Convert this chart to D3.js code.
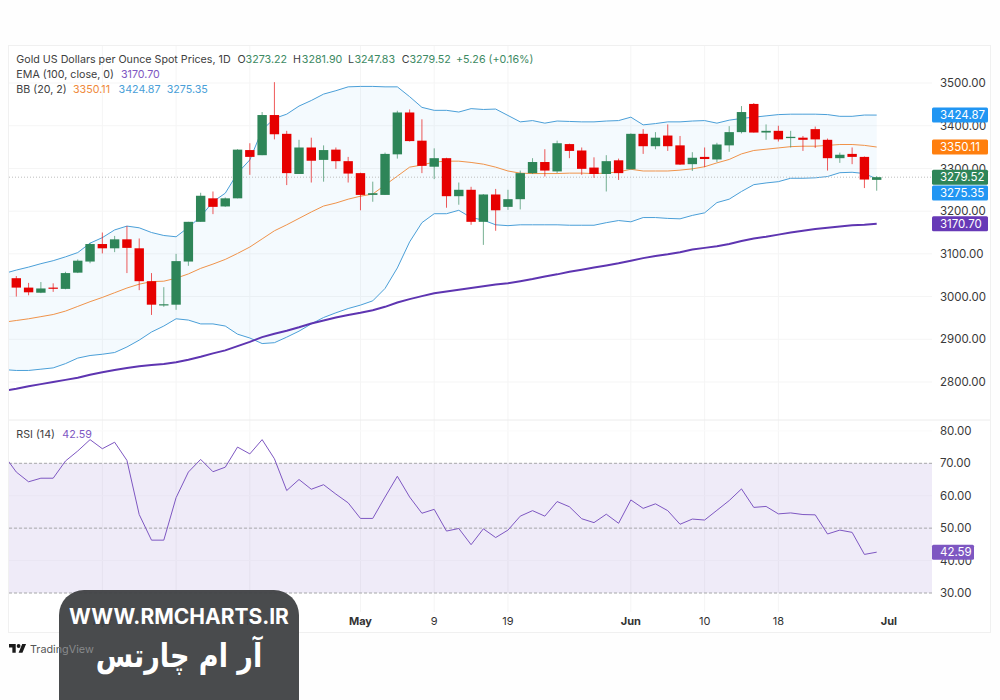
<!DOCTYPE html>
<html><head><meta charset="utf-8">
<script src="https://cdn.jsdelivr.net/npm/d3@7"></script>
<style>html,body{margin:0;background:#fefefe}svg{display:block}text{font-family:Inter,"Noto Sans",sans-serif}</style>
</head><body><div id="chart"></div>
<script>
const open=[3043,3021,3009,3021,3018,3056,3082,3123,3113,3134,3113,3036,2980,2981,3082,3175,3230,3211,3230,3343,3331,3425,3381,3287,3349,3320,3344,3317,3289,3238,3238,3333,3431,3365,3304,3324,3235,3250,3175,3239,3210,3228,3289,3315,3293,3357,3342,3302,3287,3319,3298,3381,3352,3377,3354,3310,3327,3321,3354,3385,3451,3384,3388,3371,3372,3392,3367,3324,3334,3327,3273.22];
const high=[3048,3032,3034,3031,3058,3087,3126,3150,3142,3165,3136,3055,3022,3100,3175,3243,3246,3232,3345,3359,3432,3502,3388,3367,3372,3354,3349,3327,3290,3269,3337,3435,3438,3415,3347,3325,3267,3257,3240,3252,3250,3295,3324,3345,3365,3358,3349,3326,3331,3323,3382,3392,3385,3403,3376,3338,3349,3360,3399,3446,3453,3403,3400,3388,3376,3398,3370,3337,3349,3328,3281.90];
const low=[3000,3003,3008,3011,3017,3055,3078,3101,3104,3055,3015,2957,2976,2969,3072,3175,3193,3210,3230,3285,3331,3368,3261,3287,3267,3269,3299,3267,3202,3222,3238,3323,3363,3289,3275,3208,3215,3168,3121,3154,3203,3204,3287,3281,3289,3324,3285,3278,3246,3273,3298,3334,3345,3341,3308,3294,3303,3315,3339,3382,3384,3367,3363,3349,3341,3348,3295,3313,3310,3254,3247.83];
const close=[3021,3010,3019,3019,3055,3084,3123,3113,3134,3114,3036,2981,2982,3083,3175,3236,3210,3230,3344,3327,3425,3380,3289,3349,3318,3343,3317,3288,3238,3242,3334,3431,3364,3306,3324,3235,3250,3175,3239,3202,3228,3289,3315,3295,3359,3341,3299,3287,3317,3289,3381,3352,3372,3352,3309,3325,3322,3356,3385,3432,3384,3388,3368,3374,3367,3368,3324,3332,3327,3274,3279.52];
// Overlay series start one session before the first visible candle.
const bbUpper=[3054,3062,3069,3077,3084,3093,3103,3125,3138,3156,3165,3161,3150,3143,3140,3162,3187,3222,3242,3289,3320,3390,3417,3427,3446,3459,3474,3482,3491,3492,3492,3491,3491,3468,3443,3436,3436,3432,3440,3438,3439,3424,3409,3412,3406,3411,3410,3409,3409,3411,3412,3420,3402,3405,3409,3409,3411,3412,3406,3413,3417,3420,3423,3426,3427,3427,3427,3426,3422,3422,3425,3424.87];
const bbMiddle=[2940,2944,2948,2953,2958,2966,2977,2988,2998,3009,3020,3029,3035,3036,3043,3053,3066,3076,3087,3101,3116,3135,3154,3168,3183,3198,3212,3219,3228,3235,3240,3261,3282,3303,3308,3315,3317,3317,3314,3310,3303,3294,3289,3288,3288,3288,3289,3289,3288,3289,3292,3298,3294,3294,3294,3296,3299,3304,3313,3321,3334,3342,3345,3348,3351,3352,3352,3354,3356,3356,3354,3350.11];
const bbLower=[2829,2827,2827,2830,2833,2843,2856,2862,2865,2869,2882,2898,2917,2931,2948,2945,2936,2936,2931,2912,2903,2890,2892,2905,2919,2936,2951,2962,2972,2980,2990,3019,3067,3128,3173,3194,3194,3202,3185,3179,3168,3166,3168,3168,3168,3168,3167,3167,3167,3173,3178,3175,3185,3185,3183,3182,3190,3196,3220,3228,3246,3262,3266,3269,3277,3277,3278,3281,3290,3291,3288,3275.35];
const ema=[2779,2784,2790,2795,2800,2805,2810,2817,2823,2828,2833,2837,2840,2842,2846,2852,2859,2867,2874,2884,2894,2905,2913,2920,2928,2937,2944,2951,2957,2962,2968,2976,2986,2994,3001,3008,3012,3016,3020,3024,3028,3031,3036,3041,3047,3052,3058,3063,3068,3073,3078,3084,3090,3095,3099,3104,3110,3114,3118,3123,3130,3136,3140,3145,3150,3154,3158,3161,3164,3167,3168,3170.70];
const rsi=[72.5,67.3,64.3,65.4,65.4,70.7,73.8,77.3,74.5,76.5,70.9,54.2,46.3,46.3,59.4,67.3,71.2,67.4,68.8,75,72.9,77.3,71.4,61.6,65,62,63.4,60.5,57.8,53,53,59.6,66,59.6,54.6,55.8,49.1,49.9,44.9,49.8,47.1,49.4,53.7,55.4,53.7,58.2,56.6,52.9,51.7,54.3,51.5,58.7,56.1,57.5,55.4,51.2,52.8,52.5,55.5,58.5,62.1,56.4,56.7,54.4,54.7,54.2,54.1,48.2,49.4,48.7,41.9,42.59];
const priceTicks=[2800,2900,3000,3100,3200,3300,3400,3500];
const rsiTicks=[30,40,50,60,70,80];
const rsiLevels=[30,50,70];
const timeIdx=[7,13,19,28,34,40,50,56,62,71];
const timeLabels=["Apr","9","17","May","9","19","Jun","10","18","Jul"];
const timeBold=["Apr","May","Jun","Jul"];

const UP="#2e8558",DOWN="#e60000",BLUE="#2196f3",ORANGE="#ff7f0e",EMA_C="#5e35b1",RSI_C="#7e57c2",TXT="#3a3a3a";
const L=9,R=932,RR=990,T=46,B=632;
const svg=d3.select("#chart").append("svg").attr("width",1000).attr("height",700);
const x=d3.scaleLinear().domain([0,70]).range([16.3,876.7]);
const y=d3.scaleLinear().domain([2800,3500]).range([382,83]);
const yr=d3.scaleLinear().domain([30,70]).range([593,463.3]);

const defs=svg.append("defs");
defs.append("clipPath").attr("id","plot").append("rect").attr("x",L).attr("y",T).attr("width",R-L).attr("height",B-T);
const WM_PATH="M59 700V615a25 25 0 0 1 25-25H274a25 25 0 0 1 25 25V700Z";
defs.append("clipPath").attr("id","wm").append("path").attr("d",WM_PATH);
svg.append("rect").attr("x",L-.5).attr("y",T-.5).attr("width",RR-L+1).attr("height",B-T+1).attr("fill","#fff").attr("stroke","#f0f0f0");

// grid
const grid=svg.append("g").attr("stroke","#f5f5f5");
grid.selectAll("line.v").data(timeIdx.slice(0,-1)).join("line").attr("x1",d=>x(d)).attr("x2",d=>x(d)).attr("y1",T).attr("y2",612);
grid.selectAll("line.h").data(priceTicks).join("line").attr("x1",L).attr("x2",R).attr("y1",d=>y(d)).attr("y2",d=>y(d));
grid.selectAll("line.r").data(rsiTicks).join("line").attr("x1",L).attr("x2",R).attr("y1",d=>yr(d)).attr("y2",d=>yr(d)).attr("stroke","#fafafa");
svg.append("line").attr("x1",L).attr("x2",RR).attr("y1",420).attr("y2",420).attr("stroke","#ececec");

const plot=svg.append("g").attr("clip-path","url(#plot)");
const idx=d3.range(-1,71);
const lineOf=(arr,sc)=>d3.line().x((d,i)=>x(idx[i])).y(d=>sc(d))(arr);
plot.append("path").attr("fill",BLUE).attr("fill-opacity",.05)
  .attr("d",d3.area().x((d,i)=>x(idx[i])).y0((d,i)=>y(bbLower[i])).y1(d=>y(d))(bbUpper));
plot.append("path").attr("d",lineOf(bbUpper,y)).attr("fill","none").attr("stroke","#4a9fd8").attr("stroke-width",1);
plot.append("path").attr("d",lineOf(bbLower,y)).attr("fill","none").attr("stroke","#4a9fd8").attr("stroke-width",1);
plot.append("path").attr("d",lineOf(bbMiddle,y)).attr("fill","none").attr("stroke","#f0934a").attr("stroke-width",1);
plot.append("path").attr("d",lineOf(ema,y)).attr("fill","none").attr("stroke",EMA_C).attr("stroke-width",2);
plot.append("line").attr("x1",L).attr("x2",R).attr("y1",y(3279.52)).attr("y2",y(3279.52)).attr("stroke","#bdbdbd").attr("stroke-dasharray","1 2");

// candles
const cData=open.map((o,i)=>({i,o,h:high[i],l:low[i],c:close[i]}));
const cw=9.4;
const cg=plot.selectAll("g.c").data(cData).join("g");
cg.append("line").attr("x1",d=>x(d.i)).attr("x2",d=>x(d.i)).attr("y1",d=>y(d.h)).attr("y2",d=>y(d.l))
  .attr("stroke",d=>d.c>=d.o?UP:DOWN).attr("stroke-opacity",.65);
cg.append("rect").attr("x",d=>x(d.i)-cw/2).attr("width",cw)
  .attr("y",d=>y(Math.max(d.o,d.c))).attr("height",d=>Math.max(1.2,Math.abs(y(d.o)-y(d.c))))
  .attr("fill",d=>d.c>=d.o?UP:DOWN);

// RSI pane
plot.append("rect").attr("x",L).attr("width",R-L).attr("y",yr(70)).attr("height",yr(30)-yr(70)).attr("fill",RSI_C).attr("fill-opacity",.12);
plot.selectAll("line.lv").data(rsiLevels).join("line").attr("x1",L).attr("x2",R).attr("y1",d=>yr(d)).attr("y2",d=>yr(d))
  .attr("stroke","#a8a8ac").attr("stroke-dasharray","3 2");
plot.append("path").attr("d",lineOf(rsi,yr)).attr("fill","none").attr("stroke",RSI_C).attr("stroke-width",1);

// axes
function axisStyle(g){g.select(".domain").remove();g.selectAll("text").attr("font-size",11.5).attr("fill",TXT).attr("font-family","Inter");}
svg.append("g").attr("transform",`translate(${R},0)`).call(d3.axisRight(y).tickValues(priceTicks).tickFormat(d3.format(".2f")).tickSize(0).tickPadding(8)).call(axisStyle);
svg.append("g").attr("transform",`translate(${R},0)`).call(d3.axisRight(yr).tickValues(rsiTicks).tickFormat(d3.format(".2f")).tickSize(0).tickPadding(8)).call(axisStyle);
svg.append("g").selectAll("text").data(timeIdx).join("text").attr("x",d=>x(d)).attr("y",625).attr("text-anchor","middle")
  .attr("font-size",11).attr("fill","#333").attr("font-weight",(d,i)=>timeBold.includes(timeLabels[i])?700:400).text((d,i)=>timeLabels[i]);

// last-value tags: the 3275.35 tag sits displaced below the close tag, as in the terminal
const tags=[[bbUpper[71],y(bbUpper[71]),BLUE],[bbMiddle[71],y(bbMiddle[71]),"#ff7f0e"],[bbLower[71],193,BLUE],[close[70],y(close[70]),UP],[ema[71],y(ema[71]),"#673ab7"]];
const tg=svg.selectAll("g.t").data(tags).join("g").attr("transform",d=>`translate(${R},${d[1]})`);
tg.append("rect").attr("y",-7.5).attr("width",56).attr("height",15).attr("rx",1.5).attr("fill",d=>d[2]);
tg.append("text").attr("x",8).attr("dy","0.36em").attr("font-size",11.5).attr("fill","#fff").text(d=>d3.format(".2f")(d[0]));
const rt=svg.append("g").attr("transform",`translate(${R},${yr(rsi[71])})`);
rt.append("rect").attr("y",-7.5).attr("width",42).attr("height",15).attr("rx",1.5).attr("fill",RSI_C);
rt.append("text").attr("x",8).attr("dy","0.36em").attr("font-size",11.5).attr("fill","#fff").text(d3.format(".2f")(rsi[71]));

// legend
const tagText=(px,py,s,c)=>svg.append("text").attr("x",px).attr("y",py).attr("font-size",10.7).attr("fill",c).text(s);
const GV="#3d8a63",LB="#404040";
tagText(16.3,63,"Gold US Dollars per Ounce Spot Prices, 1D",LB);
tagText(237.5,63,"O",LB);tagText(245.6,63,"3273.22",GV);
tagText(293,63,"H",LB);tagText(301.8,63,"3281.90",GV);
tagText(348,63,"L",LB);tagText(354.4,63,"3247.83",GV);
tagText(401.8,63,"C",LB);tagText(409.5,63,"3279.52",GV);
tagText(456,63,"+5.26 (+0.16%)",GV);
tagText(16.3,78,"EMA (100, close, 0)",LB);tagText(121,78,"3170.70",RSI_C);
tagText(16.3,93,"BB (20, 2)",LB);tagText(73,93,"3350.11","#ef8a3c");tagText(118.6,93,"3424.87","#4a9fd8");tagText(166.7,93,"3275.35","#4a9fd8");
tagText(16.3,438,"RSI (14)",LB);tagText(62.3,438,"42.59",RSI_C);

// TradingView mark
svg.append("g").attr("transform","translate(9,642.2) scale(.48)").attr("fill","#1a1a1a")
  .call(g=>{g.append("path").attr("d","M14 22H7V11H0V4h14v18zM28 22h-8l7.5-18h8L28 22z");g.append("circle").attr("cx",20).attr("cy",8).attr("r",4);});
svg.append("text").attr("x",30).attr("y",653).attr("font-size",10.8).attr("fill","#555").text("TradingView");

// watermark
const wm=svg.append("g");
wm.append("path").attr("fill","#3f4143").attr("fill-opacity",.95).attr("d",WM_PATH);
wm.append("g").attr("clip-path","url(#wm)").append("text").attr("x",30).attr("y",653).attr("font-size",10.8).attr("fill","#8a8c8e").text("TradingView");
wm.append("text").attr("x",179).attr("y",624).attr("text-anchor","middle").attr("fill","#fff").attr("font-size",21).attr("font-weight",700).text("WWW.RMCHARTS.IR");
wm.append("text").attr("transform","translate(179,667) scale(.82,1)").attr("text-anchor","middle").attr("fill","#fff").attr("font-size",33).attr("font-weight",700).style("font-family","'DejaVu Sans'").attr("direction","rtl").text("آر ام چارتس");
</script></body></html>
